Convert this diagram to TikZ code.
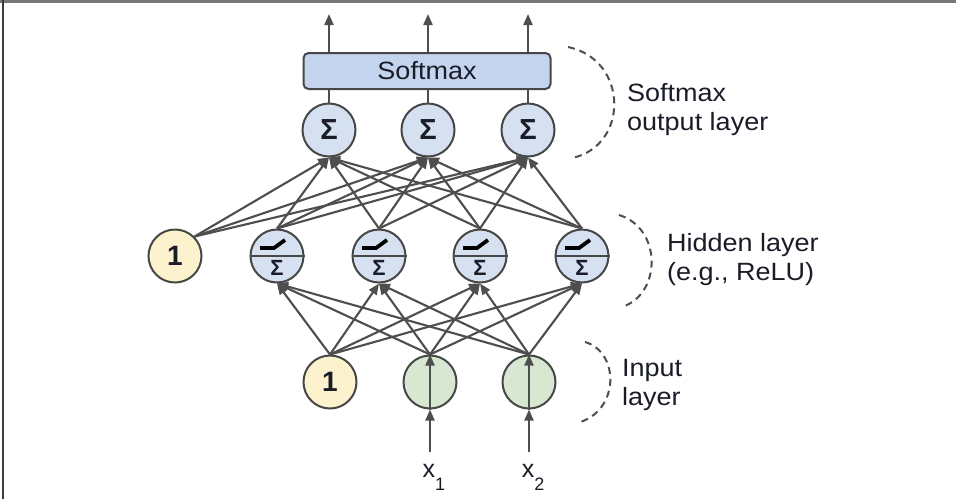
\documentclass[tikz,border=0pt]{standalone}
\usepackage{fontspec}
\setmainfont{Liberation Sans}
\usetikzlibrary{arrows.meta,calc}
\definecolor{edgec}{HTML}{4E4E4E}
\definecolor{strokec}{HTML}{474747}
\definecolor{bluef}{HTML}{D5E0F0}
\definecolor{boxf}{HTML}{C4D4EE}
\definecolor{yelf}{HTML}{FCF2CD}
\definecolor{grnf}{HTML}{D8E7D1}
\definecolor{txtc}{HTML}{1A1C28}
\newcommand\wtext[1]{\scalebox{1.08}[1]{#1}}
\begin{document}
\begin{tikzpicture}[x=1pt,y=-1pt,
  neuron/.style={circle,draw=strokec,line width=2pt,minimum size=53pt,inner sep=0pt,text=txtc},
  outn/.style={neuron,fill=bluef,font=\fontsize{29}{29}\selectfont\bfseries},
  hidn/.style={neuron,fill=bluef},
  biasn/.style={neuron,fill=yelf,font=\fontsize{28}{28}\selectfont\bfseries},
  inpn/.style={neuron,fill=grnf},
  hsig/.style={inner sep=0pt,text=txtc,font=\fontsize{22}{22}\selectfont\bfseries},
  smbox/.style={draw=strokec,line width=2pt,fill=boxf,rounded corners=5pt,minimum width=247pt,minimum height=36pt,inner sep=0pt,text=txtc,font=\fontsize{25}{25}\selectfont},
  conn/.style={draw=edgec,line width=2.1pt},
  arr/.style={conn,-{Triangle[length=11pt,width=9pt]}},
  relu/.style={draw=black,line width=3.8pt,line cap=butt,line join=miter},
  midline/.style={draw=strokec,line width=1.6pt},
  brace/.style={draw=edgec,line width=2pt,dash pattern=on 7pt off 5pt},
  lbl/.style={align=left,anchor=west,inner sep=0pt,text=txtc,font=\fontsize{25}{29}\selectfont},
  xlab/.style={inner xsep=0pt,inner ysep=12pt,anchor=north,text=txtc,font=\fontsize{25}{25}\selectfont}
]
\useasboundingbox (0,0) rectangle (956,499);
\fill[white] (0,0) rectangle (956,499);
% frame
\draw[line width=2.5pt,draw={rgb,255:red,120;green,120;blue,120}] (0,1.5) -- (956,1.5);
\draw[line width=2pt,draw={rgb,255:red,60;green,60;blue,60}] (3,0) -- (3,499);

\coordinate (ip1) at (330,382);
\coordinate (ip2) at (430,382);
\coordinate (ip3) at (529,382);
\coordinate (hp1) at (277,256);
\coordinate (hp2) at (379,256);
\coordinate (hp3) at (480,256);
\coordinate (hp4) at (582,256);
\coordinate (hp0) at (175,256);
\coordinate (op1) at (329,130);
\coordinate (op2) at (428,130);
\coordinate (op3) at (528,130);

% output layer
\node[outn] (o1) at (op1) {Σ};
\node[outn] (o2) at (op2) {Σ};
\node[outn] (o3) at (op3) {Σ};
% hidden layer
\node[biasn] (b2) at (hp0) {1};
\foreach \i in {1,2,3,4}{
  \node[hidn] (h\i) at (hp\i) {};
  \draw[midline] (h\i.west) -- (h\i.east);
  \draw[relu] ($(h\i)+(-17,-8)$) -- ($(h\i)+(-3,-8)$) -- ($(h\i)+(8,-16)$);
  \node[hsig] (hs\i) at ($(h\i)+(0,12)$) {Σ};
}
% input layer
\node[biasn] (b1) at (ip1) {1};
\node[inpn] (i1) at (ip2) {};
\node[inpn] (i2) at (ip3) {};

% softmax box
\node[smbox] (sm) at (427,71) {\wtext{Softmax}};

% input -> hidden
\foreach \s in {b1,i1,i2}{
  \foreach \t in {h1,h2,h3,h4}{
    \draw[arr] (\s.north) -- (\t.south);
  }
}
% hidden -> output
\foreach \t in {o1,o2,o3}{
  \draw[arr] (b2.45) -- (\t.south);
  \foreach \s in {h1,h2,h3,h4}{
    \draw[arr] (\s.north) -- (\t.south);
  }
}
% output -> softmax -> out arrows
\foreach \k in {1,2,3}{
  \draw[conn] (o\k.north) -- (o\k.north |- sm.south);
  \coordinate (t\k) at ($(o\k |- sm.north)+(0,-38)$);
  \draw[arr] (o\k |- sm.north) -- (t\k);
}

% inputs x1, x2
\node[xlab] (x1l) at (434,452) {x\raisebox{-13pt}{\fontsize{18}{18}\selectfont 1}};
\node[xlab] (x2l) at (533,452) {x\raisebox{-13pt}{\fontsize{18}{18}\selectfont 2}};
\draw[arr] (x1l.north -| i1) -- (i1.south);
\draw[arr] (x2l.north -| i2) -- (i2.south);
\draw[arr] (i1.south) -- (i1.north);
\draw[arr] (i2.south) -- (i2.north);

% dashed brackets
\draw[brace] (568,47) .. controls (629,60) and (629,146) .. (572,158);
\draw[brace] (619,215) .. controls (662,228) and (662,294) .. (622,307);
\draw[brace] (585,342) .. controls (620,352) and (620,412) .. (577,423);

% layer labels
\node[lbl] (lo) at (627,110) {\wtext{Softmax}\\\wtext{output layer}};
\node[lbl] (lh) at (667,260) {\wtext{Hidden layer}\\\wtext{(e.g., ReLU)}};
\node[lbl] (li) at (622,385) {\wtext{Input}\\\wtext{layer}};
\end{tikzpicture}
\end{document}
